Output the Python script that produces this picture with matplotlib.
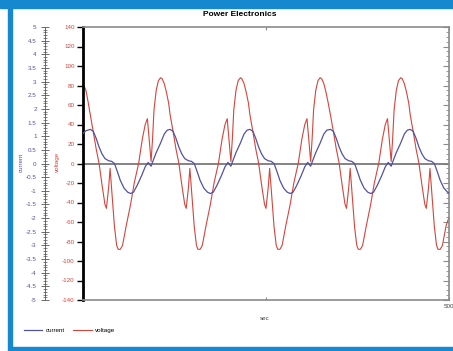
import matplotlib
matplotlib.use("Agg")
import matplotlib.pyplot as plt
from matplotlib.patches import Rectangle
from matplotlib.ticker import MultipleLocator, FuncFormatter

plt.rcParams['font.family'] = ['Liberation Sans', 'DejaVu Sans']

# voltage trace (sec, volts)
volt_t = [0, 4, 7,
          10, 14, 18, 22, 26, 30, 32, 35, 37, 40, 43, 46, 48, 51, 54, 56, 59, 65, 70, 76, 81, 85, 88, 91, 93, 95, 97, 100, 103, 106, 108, 111, 114, 117,
          119, 123, 127, 131, 135, 139, 141, 144, 146, 149, 152, 155, 157, 160, 163, 165, 168, 174, 179, 185, 190, 194, 197, 200, 202, 204, 206, 209, 212, 215, 217, 220, 223, 226,
          228, 232, 236, 240, 244, 248, 250, 253, 255, 258, 261, 264, 266, 269, 272, 274, 277, 283, 288, 294, 299, 303, 306, 309, 311, 313, 315, 318, 321, 324, 326, 329, 332, 335,
          338, 342, 346, 350, 354, 358, 360, 363, 365, 368, 371, 374, 376, 379, 382, 384, 387, 393, 398, 404, 409, 413, 416, 419, 421, 423, 425, 428, 431, 434, 436, 439, 442, 445,
          447, 451, 455, 459, 463, 467, 469, 472, 474, 477, 480, 483, 485, 488, 491, 493, 496, 500]
volt_v = [82, 75, 63,
          50, 33, 15, 0, -22, -42, -46, -25, -5, -35, -65, -84, -88, -88, -84, -76, -64, -42, -20, 0, 25, 40, 46, 20, 2, 25, 55, 75, 85, 88, 87, 82, 73, 62,
          50, 33, 15, 0, -22, -42, -46, -25, -5, -35, -65, -84, -88, -88, -84, -76, -64, -42, -20, 0, 25, 40, 46, 20, 2, 25, 55, 75, 85, 88, 87, 82, 73, 62,
          50, 33, 15, 0, -22, -42, -46, -25, -5, -35, -65, -84, -88, -88, -84, -76, -64, -42, -20, 0, 25, 40, 46, 20, 2, 25, 55, 75, 85, 88, 87, 82, 73, 62,
          50, 33, 15, 0, -22, -42, -46, -25, -5, -35, -65, -84, -88, -88, -84, -76, -64, -42, -20, 0, 25, 40, 46, 20, 2, 25, 55, 75, 85, 88, 87, 82, 73, 62,
          50, 33, 15, 0, -22, -42, -46, -25, -5, -35, -65, -84, -88, -88, -84, -76, -64, -55]

# current trace (sec, amps)
curr_t = [0, 4,
          10, 14, 18, 22, 26, 30, 35, 39, 43, 47, 51, 56, 61, 65, 69, 74, 80, 85, 89, 93, 96, 100, 106, 111, 115,
          119, 123, 127, 131, 135, 139, 144, 148, 152, 156, 160, 165, 170, 174, 178, 183, 189, 194, 198, 202, 205, 209, 215, 220, 224,
          228, 232, 236, 240, 244, 248, 253, 257, 261, 265, 269, 274, 279, 283, 287, 292, 298, 303, 307, 311, 314, 318, 324, 329, 333,
          338, 342, 346, 350, 354, 358, 363, 367, 371, 375, 379, 384, 389, 393, 397, 402, 408, 413, 417, 421, 424, 428, 434, 439, 443,
          447, 451, 455, 459, 463, 467, 472, 476, 480, 484, 488, 493, 498, 500]
curr_i = [1.1, 1.2,
          1.25, 1.18, 0.92, 0.6, 0.35, 0.18, 0.1, 0.08, 0.0, -0.3, -0.62, -0.9, -1.05, -1.1, -1.05, -0.8, -0.45, -0.12, 0.04, -0.1, 0.12, 0.4, 0.75, 1.08, 1.22,
          1.25, 1.18, 0.92, 0.6, 0.35, 0.18, 0.1, 0.08, 0.0, -0.3, -0.62, -0.9, -1.05, -1.1, -1.05, -0.8, -0.45, -0.12, 0.04, -0.1, 0.12, 0.4, 0.75, 1.08, 1.22,
          1.25, 1.18, 0.92, 0.6, 0.35, 0.18, 0.1, 0.08, 0.0, -0.3, -0.62, -0.9, -1.05, -1.1, -1.05, -0.8, -0.45, -0.12, 0.04, -0.1, 0.12, 0.4, 0.75, 1.08, 1.22,
          1.25, 1.18, 0.92, 0.6, 0.35, 0.18, 0.1, 0.08, 0.0, -0.3, -0.62, -0.9, -1.05, -1.1, -1.05, -0.8, -0.45, -0.12, 0.04, -0.1, 0.12, 0.4, 0.75, 1.08, 1.22,
          1.25, 1.18, 0.92, 0.6, 0.35, 0.18, 0.1, 0.08, 0.0, -0.3, -0.62, -0.9, -1.05, -1.08]

volt_ticks = list(range(-140, 141, 20))
red = '#d4453c'
blue = '#52529e'
frame_blue = '#1588d0'
W, H = 453.0, 351.0

fig = plt.figure(figsize=(4.53, 3.51), dpi=100)
fig.patch.set_facecolor('white')

# blue frame of the picture
fig.patches.append(Rectangle((0, 1 - 8 / H), 1, 8 / H, transform=fig.transFigure, color=frame_blue, zorder=0))
fig.patches.append(Rectangle((8 / W, 4 / H), 3.5 / W, 1 - 12 / H, transform=fig.transFigure, color=frame_blue, zorder=0))
fig.patches.append(Rectangle((8 / W, 0), 1, 4.5 / H, transform=fig.transFigure, color=frame_blue, zorder=0))

ax = fig.add_axes([83 / W, 51 / H, 366 / W, 273 / H])
vline, = ax.plot(volt_t, volt_v, color=red, lw=0.8, label='voltage')
ax.set_xlim(0, 500)
ax.set_ylim(-140, 140)
ax.axhline(0, color='#7a7a7a', lw=1.3, zorder=1)

for s in ['top', 'bottom', 'right']:
    ax.spines[s].set_color('#8a8a8a')
    ax.spines[s].set_linewidth(1.2)
ax.spines['left'].set_color('black')
ax.spines['left'].set_linewidth(2.0)

ax.set_yticks(volt_ticks)
ax.set_yticklabels([str(v) for v in volt_ticks])
ax.tick_params(axis='y', which='major', direction='out', length=4, width=1,
               color='black', labelcolor=red, labelsize=4.5, pad=2)
ax.set_xticks([250, 500])
ax.set_xticklabels(['', '500'])
ax.tick_params(axis='x', direction='in', length=2, color='#8a8a8a', top=True,
               labelsize=4.5, labelcolor='#444444', pad=3)

# mirrored ticks on the right edge
sec = ax.secondary_yaxis('right')
sec.set_yticks(volt_ticks)
sec.yaxis.set_minor_locator(MultipleLocator(5))
sec.tick_params(axis='y', which='major', direction='in', length=4, color='#8a8a8a', labelright=False)
sec.tick_params(axis='y', which='minor', direction='in', length=2, color='#8a8a8a')
sec.spines['right'].set_visible(False)

# current axis, pushed out to the left
ax2 = ax.twinx()
cline, = ax2.plot(curr_t, curr_i, color=blue, lw=0.9, label='current')
ax2.set_ylim(-5, 5)
ax2.spines['right'].set_visible(False)
ax2.spines['top'].set_visible(False)
ax2.spines['bottom'].set_visible(False)
ax2.spines['left'].set_visible(True)
ax2.spines['left'].set_position(('axes', (45 - 83) / 366.0))
ax2.spines['left'].set_color('#555555')
ax2.spines['left'].set_linewidth(0.6)
ax2.yaxis.set_ticks_position('left')
ax2.yaxis.set_major_locator(MultipleLocator(0.5))
ax2.yaxis.set_minor_locator(MultipleLocator(0.1))
ax2.yaxis.set_major_formatter(FuncFormatter(lambda v, p: '%g' % round(v, 1)))
ax2.tick_params(axis='y', which='major', direction='inout', length=6, width=0.6,
                color='#555555', labelcolor=blue, labelsize=4.5, pad=3)
ax2.tick_params(axis='y', which='minor', direction='inout', length=3, width=0.5, color='#555555')

fig.text(21 / W, 1 - 162 / H, 'current', rotation=90, color=blue, fontsize=4.5, ha='center', va='center')
fig.text(57 / W, 1 - 162 / H, 'voltage', rotation=90, color=red, fontsize=4.5, ha='center', va='center')
fig.text(240 / W, 1 - 15 / H, 'Power Electronics', fontsize=6, fontweight='bold', ha='center', va='center')
fig.text(265 / W, 1 - 318 / H, 'sec', fontsize=4.5, color='#444444', ha='center', va='center')

fig.legend([cline, vline], ['current', 'voltage'], loc='center left',
           bbox_to_anchor=(18 / W, 1 - 330 / H), ncol=2, frameon=False,
           fontsize=4.5, handlelength=3, columnspacing=1.2, handletextpad=0.6)

fig.savefig('out.png', dpi=100, facecolor='white')
